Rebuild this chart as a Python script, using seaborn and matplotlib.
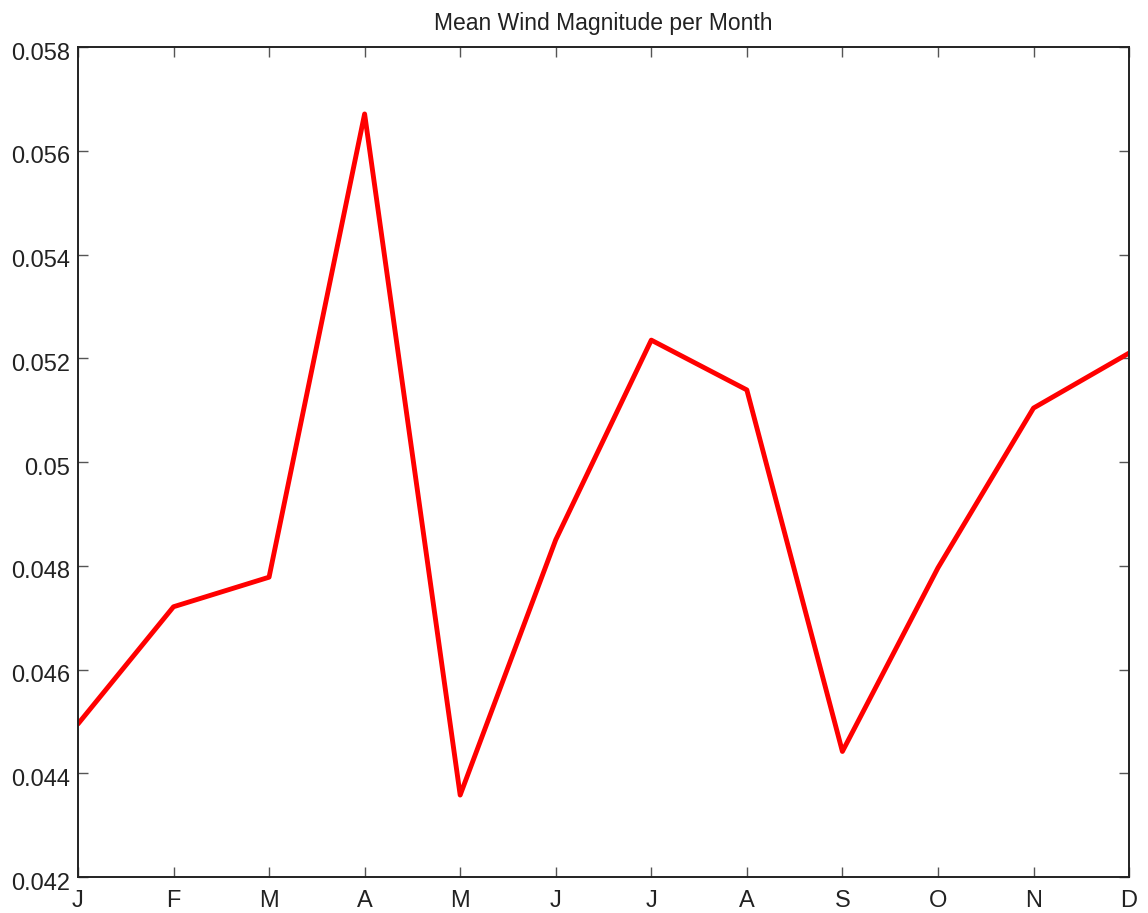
import matplotlib
matplotlib.use("Agg")
import matplotlib.pyplot as plt
import matplotlib.transforms as mtransforms
import seaborn as sns
import pandas as pd

months = ["J", "F", "M", "A", "M", "J", "J", "A", "S", "O", "N", "D"]
wind_magnitude = [0.04495, 0.04721, 0.04778, 0.05671, 0.04358, 0.04850,
                  0.05235, 0.05139, 0.04442, 0.04796, 0.05104, 0.05210]
y_ticks = [0.042, 0.044, 0.046, 0.048, 0.05, 0.052, 0.054, 0.056, 0.058]
y_tick_labels = ["0.042", "0.044", "0.046", "0.048", "0.05", "0.052", "0.054", "0.056", "0.058"]

df = pd.DataFrame({"month_idx": range(len(months)), "wind": wind_magnitude})

sns.set_style("white")
plt.rcParams["font.family"] = ["Liberation Sans", "DejaVu Sans"]

fig = plt.figure(figsize=(11.48, 9.13), dpi=100)
ax = fig.add_axes([0.0679, 0.0394, 0.9156, 0.9091])

sns.lineplot(data=df, x="month_idx", y="wind", color="#ff0000", linewidth=3.5, ax=ax)

ax.set_xlim(0, len(months) - 1)
ax.set_ylim(0.042, 0.058)
ax.set_xticks(range(len(months)))
ax.set_xticklabels(months)
ax.set_yticks(y_ticks)
ax.set_yticklabels(y_tick_labels)
ax.set_xlabel("")
ax.set_ylabel("")
ax.set_title("Mean Wind Magnitude per Month", fontsize=16.5, pad=12, color="#222222")

ax.tick_params(direction="in", length=7, width=1, colors="#555555",
               labelcolor="#222222", labelsize=17,
               top=True, right=True, bottom=True, left=True)
ax.tick_params(axis="y", pad=5.5)
ax.tick_params(axis="x", pad=9)

# nudge the value labels slightly below their ticks
shift = mtransforms.ScaledTranslation(0, -3 / 72, fig.dpi_scale_trans)
for lbl in ax.get_yticklabels():
    lbl.set_transform(lbl.get_transform() + shift)

for sp in ax.spines.values():
    sp.set_visible(True)
    sp.set_color("#222222")
    sp.set_linewidth(1.4)

fig.savefig("out.png", dpi=100, facecolor="white")
